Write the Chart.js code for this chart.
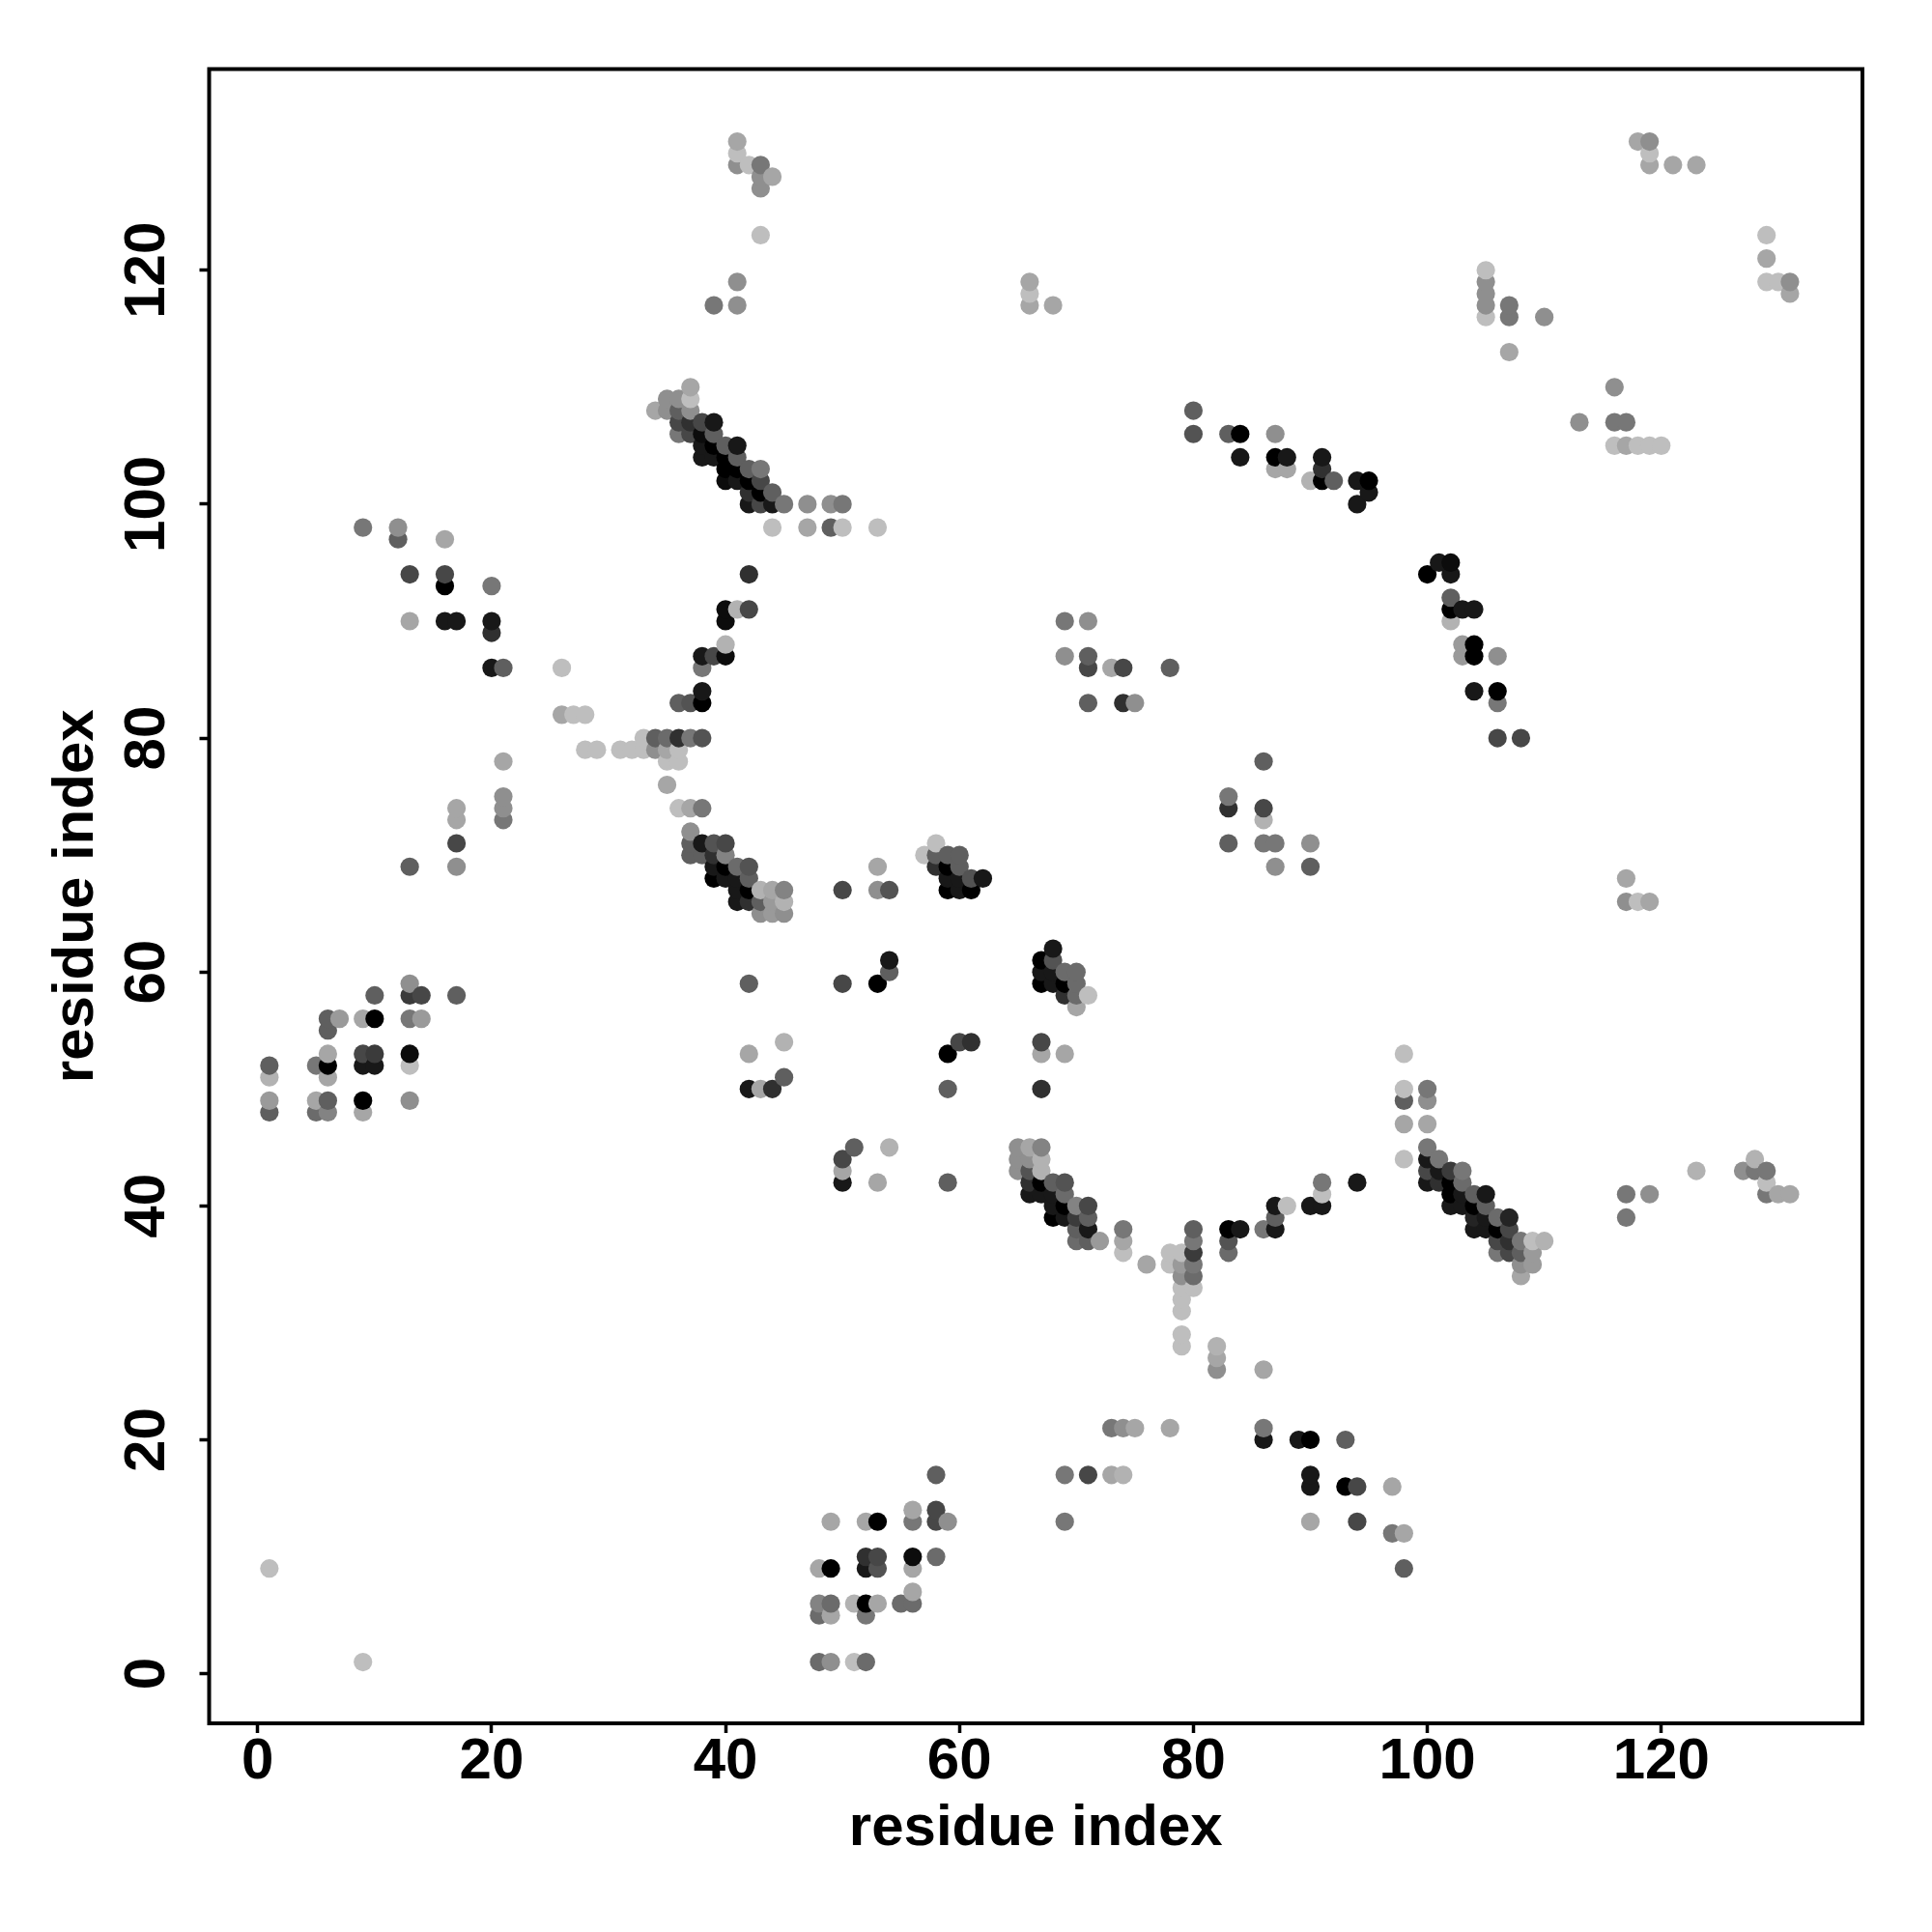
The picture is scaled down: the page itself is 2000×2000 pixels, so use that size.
<!DOCTYPE html>
<html>
<head>
<meta charset="utf-8">
<title>residue contacts</title>
<script src="https://cdn.jsdelivr.net/npm/chart.js@4/dist/chart.umd.min.js"></script>
<style>
  body { margin: 0; background: #fff; }
  canvas { display: block; }
</style>
</head>
<body>
<canvas id="myChart" width="2000" height="2000"></canvas>
<script>
// every contact is [residue i, residue j, score], score 1 (weak, light) to 9 (strong, black)
const tickValues = [0, 20, 40, 60, 80, 100, 120]
const axisLabel = 'residue index'

const topLeftGroup = [[41,131,2],[41,130,1],[41,129,3],[42,129,1],[43,129,4],[43,128,3],[44,128,2],[43,127,3],[43,123,1],[41,119,3],[39,117,4],[41,117,3]]
const topRightGroup = [[118,131,2],[119,131,3],[119,130,1],[119,129,2],[121,129,2],[123,129,2],[129,123,1],[129,121,2],[129,119,1],[130,119,1],[131,119,3],[131,118,2],
  [105,120,1],[105,119,3],[105,118,3],[105,117,3],[105,116,1],[107,117,4],[107,116,4],[110,116,3],[107,113,2],[113,107,3],[116,110,3],[116,107,4],[117,107,4],[116,105,1],[117,105,2],[118,105,1],[119,105,1],[120,105,1],
  [66,119,2],[66,118,1],[66,117,2],[68,117,2]]
const upperArc = [[37,110,2],[35,109,3],[36,109,3],[37,109,1],[34,108,2],[35,108,3],[36,108,5],[37,108,3],
  [36,107,6],[37,107,7],[38,107,6],[39,107,8],[36,106,4],[37,106,6],[38,106,8.5],[39,106,5],
  [38,105,8],[39,105,9],[40,105,5],[41,105,8],[38,104,8],[39,104,8],[40,104,9],[41,104,5],
  [40,103,9],[41,103,9],[42,103,5],[43,103,4],[40,102,8.5],[41,102,8],[42,102,9],[43,102,6],
  [42,101,7],[43,101,9],[44,101,5],[42,100,8],[43,100,6],[44,100,8],[45,100,4],[47,100,3],[49,100,3],[50,100,4],
  [44,98,1],[47,98,2],[49,98,5],[50,98,1],[53,98,1]]
const leftGroup = [[9,98,4],[12,98,3],[12,97,5],[16,97,2],[13,94,6],[16,94,6],[16,93,9],[20,93,4],[13,90,2],[16,90,8],[17,90,8],[20,90,8],[20,89,7],[20,86,8],[21,86,5],
  [26,86,1],[26,82,2],[27,82,1],[28,82,1],[21,78,2],[21,75,3],[21,74,3],[21,73,4],[17,74,2],[17,73,2],[17,71,6],[17,69,3],[13,69,5]]
const middleStem = [[42,94,7],[40,91,8.5],[41,91,1.5],[42,91,6],[40,90,8.5],[40,88,1.5],[38,87,8],[39,87,6],[40,87,8.5],[38,86,4],[38,84,8],[36,83,5],[37,83,5.5],[38,83,9],
  [33,80,1],[34,80,5],[35,80,4.5],[36,80,7],[37,80,4],[38,80,5.5],
  [28,79,1],[29,79,1],[31,79,1],[32,79,1],[33,79,1],[34,79,3],[35,79,2],[36,79,1],[35,78,1],[36,78,1],[35,76,2]]
const lowerArc = [[36,74,1],[37,74,2],[38,74,4],[37,72,3],[37,71,5],[38,71,8],[39,71,5.5],[40,71,6],[37,70,5],[38,70,5],[39,70,7],[40,70,3.5],
  [39,69,8],[40,69,9],[41,69,4.5],[42,69,5.5],[39,68,9],[40,68,8],[41,68,8],[42,68,5],
  [41,67,8],[42,67,9],[43,67,1.5],[44,67,2],[45,67,3.5],[41,66,8],[42,66,7],[43,66,5],[44,66,2.5],[45,66,1.5],[43,65,3],[44,65,2.5],[45,65,3],
  [50,67,6],[53,69,2],[53,67,3],[54,67,5.5]]
const centerPatch = [[58,71,1],[57,70,1],[58,70,5],[59,70,5],[60,70,5],[58,69,7],[59,69,9],[60,69,5],[59,68,8],[60,68,8],[61,68,5.5],[62,68,8],[59,67,9],[60,67,8],[61,67,9],
  [68,62,8],[67,61,9],[68,61,5.5],[67,60,8],[68,60,8],[69,60,4.5],[70,60,4.5],[67,59,9],[68,59,8],[69,59,9],[70,59,4.5],[69,58,7],[70,58,4.5],[71,58,1],[70,57,2],
  [42,59,5],[50,59,6],[53,59,9],[54,60,5],[54,61,8],[59,53,9],[60,54,6],[61,54,7],[59,50,5],[42,53,2],[45,54,1.5],[45,51,5],[42,50,8],[43,50,2],[44,50,7],
  [67,54,6],[67,53,2],[69,53,2],[67,50,7],[50,44,6],[50,43,2],[50,42,8],[51,45,5],[53,42,2],[54,45,1.5],[59,42,5]]
const valleyArc = [[65,45,3],[66,45,2],[67,45,3.5],[65,44,3],[66,44,3],[67,44,1.5],[65,43,3],[66,43,5.5],[67,43,1.5],
  [66,42,7],[67,42,9],[68,42,5],[69,42,5.5],[66,41,8],[67,41,8],[68,41,8],[69,41,4.5],
  [68,40,8],[69,40,9],[70,40,3.5],[71,40,6],[68,39,9],[69,39,8],[70,39,6.5],[71,39,5],
  [70,38,5],[71,38,8],[74,38,4],[80,38,5],[83,38,9],[84,38,8],[86,38,4],[87,38,8],
  [70,37,4.5],[71,37,5],[72,37,2.5],[74,37,2],[80,37,4],[83,37,5.5],[74,36,1],[80,36,6.5],[83,36,4.5],[78,36,1],[79,36,1],
  [76,35,2],[78,35,1],[79,35,2.5],[80,35,4],[79,34,3],[80,34,4.5],[79,33,1],[80,33,1],[79,32,1],[79,31,1],
  [87,39,5],[87,40,8],[88,40,1],[91,42,4],[91,41,1],[90,40,8],[91,40,8],[94,42,8],[79,29,1],[79,28,1],[82,28,1.5],[82,27,2],[82,26,3],[86,26,2]]
const rightArc = [[98,53,1],[98,50,1],[100,50,4],[98,49,5],[100,49,3],[98,47,2],[100,47,2],[98,44,1],[100,45,4],[100,44,8],[101,44,4],
  [100,43,6],[101,43,8],[102,43,6.5],[103,43,4],[100,42,8],[101,42,7],[102,42,9],[103,42,4.5],
  [102,41,9],[103,41,8],[104,41,5],[105,41,8],[102,40,8],[103,40,8],[104,40,9],[105,40,5],
  [104,39,7.5],[105,39,8],[106,39,4.5],[107,39,7.5],[104,38,8],[105,38,8],[106,38,9],[107,38,6],
  [106,37,6],[107,37,7],[108,37,4],[109,37,1],[110,37,1.5],[106,36,4],[107,36,6],[108,36,5],[109,36,2.5],[108,35,3],[109,35,2.5],[108,34,2]]
const upperRightStrip = [[80,108,5],[80,106,5.5],[83,106,5],[84,106,9],[84,104,8],[87,106,3],[87,104,9],[88,104,8],[87,103,2],[88,103,2],[90,102,1.5],[91,104,8],[91,103,7],[91,102,9],[92,102,5],[94,102,8],[95,102,9],[95,101,8],[94,100,8],
  [100,94,9],[101,95,8],[102,95,8.5],[102,94,8],[102,92,5],[102,91,9],[103,91,8],[104,91,8],[102,90,1.5],[103,88,2.5],[104,88,9],[103,87,2.5],[104,87,9],[106,87,3],[104,84,8],[106,84,9],[106,83,4],[106,80,6],[108,80,6]]
const midRightGroup = [[69,90,4],[71,90,3],[69,87,3],[71,87,5],[71,86,6],[73,86,2],[74,86,6],[78,86,5],[71,83,5],[74,83,7],[75,83,3],
  [83,75,4],[83,74,7],[83,71,5],[86,78,5],[86,74,6],[86,73,1.5],[86,71,4],[87,71,4],[87,69,3],[90,71,3],[90,69,5],
  [117,68,2],[117,66,3],[118,66,1],[119,66,2],
  [117,41,4],[119,41,3],[117,39,4],[123,43,1.5],[127,43,3],[128,44,1.5],[128,43,4],[129,43,4],[129,42,1],[129,41,4],[130,41,2],[131,41,2]]
const sideBlock = [[13,59,3],[10,58,5],[13,58,6.5],[14,58,6],[17,58,5],[6,56,5],[7,56,2.5],[9,56,2],[10,56,9],[13,56,4],[14,56,2.5],[6,55,5],
  [6,53,2],[9,53,6],[10,53,6.5],[13,53,8.5],[1,52,5],[5,52,4],[6,52,9],[9,52,8],[10,52,8],[13,52,1],[1,51,1.5],[6,51,2],
  [1,49,2.5],[5,49,2],[6,49,5],[9,49,9],[13,49,3],[1,48,5],[5,48,4.5],[6,48,3.5],[9,48,2]]
const bottomBlock = [[52,10,7],[53,10,6],[56,10,8.5],[58,10,4.5],[48,9,2],[49,9,9],[52,9,8],[53,9,5.5],[56,9,2],[56,7,2],
  [48,6,3.5],[49,6,4.5],[51,6,1.5],[52,6,9],[53,6,2],[55,6,4.5],[56,6,4.5],[48,5,4.5],[49,5,2],[52,5,4],
  [48,1,4.5],[49,1,3],[51,1,1],[52,1,4.5],[49,13,2],[52,13,2],[53,13,9],[56,14,2],[56,13,4],[58,17,5],[58,14,6],[58,13,6],[59,13,3]]
const lowerRightGroup = [[86,21,4],[86,20,8],[89,20,8],[90,20,9],[93,20,5],[90,17,8],[90,16,8],[93,16,9],[94,16,6],[97,16,2],[90,13,2],[94,13,6],[97,12,4],[98,12,2],[98,9,5],
  [73,21,4],[74,21,3],[75,21,2],[78,21,2],[69,17,4],[71,17,6],[73,17,2],[74,17,1.5],[69,13,4],[1,9,1],[9,1,1]]

const contacts = [].concat(topLeftGroup, topRightGroup, upperArc, leftGroup, middleStem, lowerArc, centerPatch,
    valleyArc, rightArc, upperRightStrip, midRightGroup, sideBlock, bottomBlock, lowerRightGroup)
    .sort((a, b) => a[0] - b[0] || a[1] - b[1])

function scoreColor(score) {
    const g = Math.round((9 - score) * 190 / 8)
    return 'rgb(' + g + ',' + g + ',' + g + ')'
}

// R style closed box round the plot
const boxPlugin = {
    id: 'box',
    afterDraw(chart) {
        const a = chart.chartArea
        const c = chart.ctx
        c.save()
        c.strokeStyle = '#000'
        c.lineWidth = 4
        c.strokeRect(a.left, a.top, a.right - a.left, a.bottom - a.top)
        c.restore()
    }
}

const tickFont = { family: '"Liberation Sans"', size: 60, weight: 'bold', lineHeight: 1 }

new Chart(document.getElementById('myChart'), {
    type: 'scatter',
    data: {
        datasets: [{
            data: contacts.map(p => ({ x: p[0], y: p[1] })),
            backgroundColor: contacts.map(p => scoreColor(p[2])),
            borderWidth: 0,
            pointRadius: 9.6,
            pointHoverRadius: 9.6
        }]
    },
    plugins: [boxPlugin],
    options: {
        responsive: false,
        devicePixelRatio: 1,
        animation: false,
        layout: { padding: { left: 0, top: 71.5, right: 72, bottom: 0 } },
        plugins: { legend: { display: false }, tooltip: { enabled: false } },
        scales: {
            x: {
                type: 'linear',
                min: -4.15,
                max: 137.2,
                afterFit: s => { s.height = 216 },
                afterBuildTicks: s => { s.ticks = tickValues.map(v => ({ value: v })) },
                border: { display: false },
                grid: { drawOnChartArea: false, drawTicks: true, tickLength: 10, tickWidth: 3.5, tickColor: '#000' },
                ticks: { color: '#000', font: tickFont, padding: 0, maxRotation: 0, minRotation: 0, autoSkip: false },
                title: { display: true, text: axisLabel, color: '#000', font: tickFont, padding: { top: 0, bottom: 77 } }
            },
            y: {
                type: 'linear',
                min: -4.24,
                max: 137.2,
                afterFit: s => { s.width = 216.5 },
                afterBuildTicks: s => { s.ticks = tickValues.map(v => ({ value: v })) },
                border: { display: false },
                grid: { drawOnChartArea: false, drawTicks: true, tickLength: 10, tickWidth: 3.5, tickColor: '#000' },
                ticks: { color: '#000', font: tickFont, padding: 3, minRotation: 90, maxRotation: 90, crossAlign: 'center', autoSkip: false },
                title: { display: true, text: axisLabel, color: '#000', font: tickFont, padding: { top: 49, bottom: 0 } }
            }
        }
    }
})
</script>
</body>
</html>
